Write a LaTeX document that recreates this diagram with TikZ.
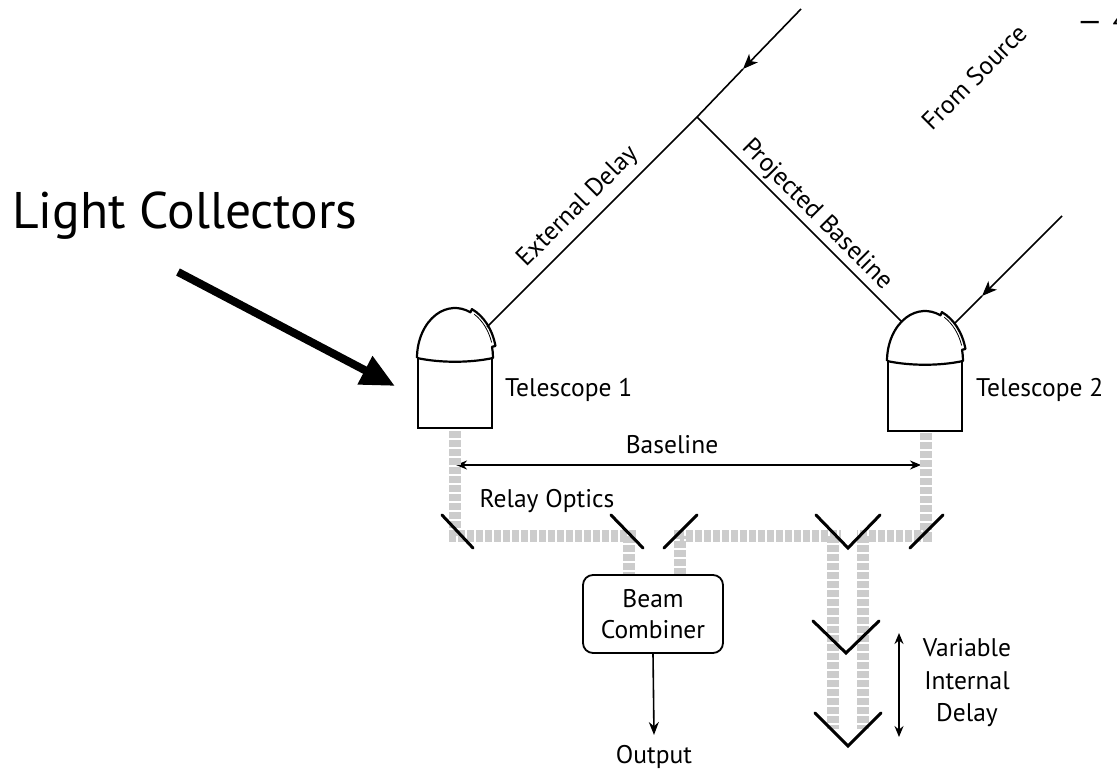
\documentclass[tikz,border=0pt]{standalone}
\usepackage{fontspec}
\setmainfont{PT Sans}
\usetikzlibrary{arrows.meta,calc}
\begin{document}
\begin{tikzpicture}[x=1pt,y=-1pt,
  ray/.style={line width=1.6pt},
  beam/.style={line width=12.5pt, draw=gray!40, dash pattern=on 7pt off 2pt},
  mirror/.style={line width=3pt, line cap=round},
  srctip/.style={-{Stealth[length=15pt,width=12pt,inset=4pt]}},
  dbl/.style={{Stealth[length=11pt,width=9pt]}-{Stealth[length=11pt,width=9pt]}},
  lbl/.style={font=\fontsize{25.5}{31}\selectfont, inner sep=0pt},
  pics/telescope/.style={code={
    % tube housing
    \draw[line width=2.2pt] (-37,0) rectangle (37,70);
    % dome with a raised shutter on its upper right
    \draw[line width=2.2pt, line join=round, fill=white]
      (180:38pt and 50pt) arc[start angle=180,end angle=66,x radius=38pt,y radius=50pt]
      -- (66:41.5pt and 53.5pt) arc[start angle=66,end angle=13,x radius=41.5pt,y radius=53.5pt]
      -- (13:38pt and 50pt) arc[start angle=13,end angle=0,x radius=38pt,y radius=50pt]
      .. controls (15,5) and (-15,5) .. (-38,0);
    \draw[line width=0.8pt]
      (60:38.5pt and 50.5pt) arc[start angle=60,end angle=18,x radius=38.5pt,y radius=50.5pt];
  }},
]
\useasboundingbox (0,0) rectangle (1117,773);

% telescopes
\pic at (455,358) {telescope};
\pic at (925,361) {telescope};

% light paths from the source
\coordinate (src1) at (801,9);
\coordinate (arr1) at (743,69);
\coordinate (wave) at (697,117);
\coordinate (dome1) at (487,327);
\coordinate (dome2l) at (902,322);
\coordinate (src2) at (1062,216);
\coordinate (arr2) at (982,296);
\coordinate (dome2) at (954,324);

\draw[ray, srctip] (src1) -- (arr1);
\draw[ray] (arr1) -- (wave) -- (dome1);
\draw[ray] (wave) -- (dome2l);
\draw[ray, srctip] (src2) -- (arr2);
\draw[ray] (arr2) -- (dome2);

\node[lbl, rotate=45] (ext) at (578,207) {External Delay};
\node[lbl, rotate=-45] (proj) at (817,215) {Projected Baseline};
\node[lbl, rotate=45] (from) at (974,77) {From Source};
% page number running off the right edge
\node[lbl, anchor=west, font=\fontsize{31}{36}\selectfont] (page) at (1077,20) {\textemdash\hspace{10pt}4};

% baseline
\coordinate (b1) at (456,465);
\coordinate (b2) at (921,465);
\draw[ray, dbl] (b1) -- (b2);
\node[lbl] (bl) at (672,445) {Baseline};

\node[lbl, anchor=west] (t1) at (505,390) {Telescope 1};
\node[lbl, anchor=west] (t2) at (976,390) {Telescope 2};

% relay beams
\draw[beam] (455,431) -- (455,536) -- (637,536);
\draw[beam] (629,536) -- (629,575);
\draw[beam] (680,575) -- (680,536) -- (841,536);
\draw[beam] (926,433) -- (926,536) -- (857,536);
\draw[beam] (833,536) -- (833,729);
\draw[beam] (863,536) -- (863,729);

\node[lbl] (relay) at (547,501) {Relay Optics};

% mirrors
\draw[mirror] (442,515) -- (473,548);
\draw[mirror] (611,515) -- (643,548);
\draw[mirror] (664,548) -- (697,515);
\draw[mirror] (910,548) -- (943,515);
\draw[mirror] (816,515) -- (848,548) -- (880,515);
\draw[mirror] (813,621) -- (846,653) -- (879,621);
\draw[mirror] (815,713) -- (848,746) -- (881,713);

% beam combiner
\node[lbl, draw, line width=1.8pt, rounded corners=10pt, minimum width=140pt,
      minimum height=78pt, align=center] (bc) at (653,614) {Beam\\Combiner};
\node[lbl] (out) at (654,757) {Output};
\draw[ray, -{Stealth[length=13pt,width=10pt]}] (bc.south) -- (654,735);

% variable delay
\coordinate (d1) at (899,633);
\coordinate (d2) at (899,737);
\draw[ray, dbl] (d1) -- (d2);
\node[lbl, align=center, font=\fontsize{25.5}{32.5}\selectfont] (vd) at (967,683) {Variable\\Internal\\Delay};

% light collectors callout
\node[font=\fontsize{51.5}{60}\selectfont, inner sep=0pt] (lc) at (185,216) {Light Collectors};
\coordinate (lct) at (178,272);
\draw[line width=8pt, -{Triangle[length=34pt,width=30pt]}] (lct) -- (395,386);
\end{tikzpicture}
\end{document}
